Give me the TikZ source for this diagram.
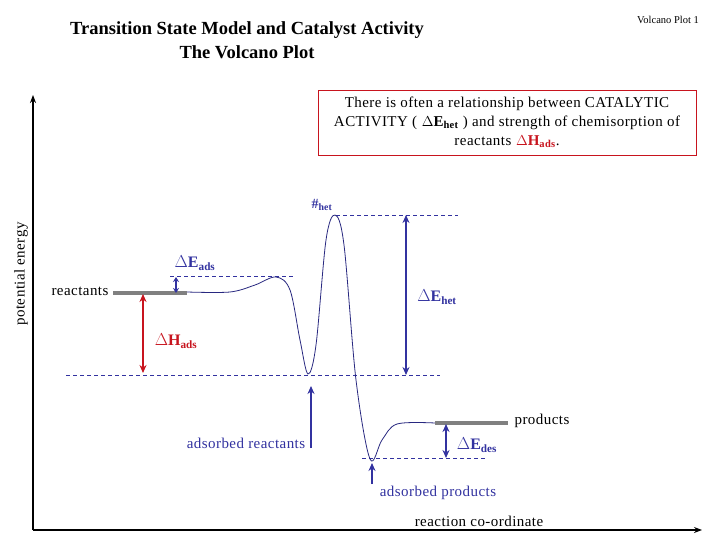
\documentclass[tikz,border=0pt]{standalone}
\usepackage{fontspec}
\setmainfont{Liberation Serif}
\usetikzlibrary{arrows.meta}
\definecolor{bl}{RGB}{50,50,160}
\definecolor{rd}{RGB}{200,20,30}
\definecolor{gr}{RGB}{128,128,128}
\begin{document}
\begin{tikzpicture}[x=1pt,y=-1pt,
  dashlvl/.style={bl,line width=0.7pt,dash pattern=on 4pt off 3pt},
  barr/.style={bl,line width=2pt,{Stealth[length=8pt,width=7pt]}-{Stealth[length=8pt,width=7pt]}},
  uarr/.style={bl,line width=2pt,-{Stealth[length=8pt,width=7pt]}},
  rarr/.style={rd,line width=2pt,{Stealth[length=8pt,width=7pt]}-{Stealth[length=8pt,width=7pt]}},
  lbl/.style={font=\fontsize{15}{18}\selectfont\addfontfeature{LetterSpace=3}},
  blbl/.style={font=\bfseries\fontsize{16}{18}\selectfont},
  bar/.style={gr,line width=3.5pt}]
\useasboundingbox (0,0) rectangle (720,540);
\fill[white] (0,0) rectangle (720,540);
\node[font=\bfseries\fontsize{18.5}{24}\selectfont,align=center] (t) at (247,40) {Transition State Model and Catalyst Activity\\The Volcano Plot};
\node[font=\fontsize{10.5}{12}\selectfont] (v) at (668,20) {Volcano Plot 1};
\node[draw=rd,line width=0.8pt,minimum width=378pt,minimum height=65pt,align=center,font=\fontsize{15}{19}\selectfont\addfontfeature{LetterSpace=3}] (box) at (507,122.5)
 {There is often a relationship between CATALYTIC\\ACTIVITY ( \textbf{$\Delta$E\textsubscript{het}} ) and strength of chemisorption of\\reactants \textbf{\textcolor{rd}{$\Delta$H\textsubscript{ads}}}.};
% axes
\coordinate (o) at (33,530);
\coordinate (ya) at (33,95);
\coordinate (xa) at (702,530);
\draw[line width=1.5pt,-{Stealth[length=8pt]}] (o) -- (ya);
\draw[line width=1.5pt,-{Stealth[length=8pt]}] (o) -- (xa);
\node[rotate=90,lbl] (pe) at (21,274) {potential energy};
\node[lbl] (rc) at (479,521) {reaction co-ordinate};
% dashed levels
\coordinate (d1a) at (170,276); \coordinate (d1b) at (293,276);
\coordinate (d2a) at (336,215); \coordinate (d2b) at (458,215);
\coordinate (d3a) at (66,375); \coordinate (d3b) at (440,375);
\coordinate (d4a) at (362,458); \coordinate (d4b) at (485,458);
\draw[dashlvl] (d1a)--(d1b); \draw[dashlvl] (d2a)--(d2b);
\draw[dashlvl] (d3a)--(d3b); \draw[dashlvl] (d4a)--(d4b);
% curve
\draw[bl!80!black,line width=0.8pt] plot[smooth,tension=0.55] coordinates
 {(187,292) (230,292) (255,285) (276,277) (290,290) (300,340) (308,374) (316,345) (326,240) (335,215) (344,245) (356,380) (370,459) (382,440) (397,424) (435,423)};
% bars
\coordinate (r1) at (113,293); \coordinate (r2) at (187,293);
\coordinate (p1) at (435,423); \coordinate (p2) at (508,423);
\draw[bar] (r1)--(r2); \draw[bar] (p1)--(p2);
\node[lbl] (rl) at (80,291) {reactants};
\node[lbl] (pl) at (542,421) {products};
% arrows
\coordinate (ea1) at (176,277); \coordinate (ea2) at (176,293);
\draw[bl,line width=1.6pt,{Stealth[length=5pt,width=6pt]}-{Stealth[length=5pt,width=6pt]}] (ea1)--(ea2);
\node[bl,blbl] (eal) at (195,263) {$\Delta$E\textsubscript{ads}};
\coordinate (h1) at (143,294); \coordinate (h2) at (143,373);
\draw[rarr] (h1)--(h2);
\node[rd,blbl] (hl) at (176,341) {$\Delta$H\textsubscript{ads}};
\coordinate (e1) at (406,215); \coordinate (e2) at (406,375);
\draw[barr] (e1)--(e2);
\node[bl,blbl] (el) at (437,297) {$\Delta$E\textsubscript{het}};
\node[bl,font=\bfseries\fontsize{14}{16}\selectfont] (hash) at (322,205) {\#\textsubscript{het}};
\coordinate (s1) at (311,448); \coordinate (s2) at (311,386);
\draw[uarr] (s1)--(s2);
\node[bl,lbl] (arl) at (246,443) {adsorbed reactants};
\coordinate (d1) at (446,424); \coordinate (d2) at (446,458);
\draw[barr] (d1)--(d2);
\node[bl,blbl] (dl) at (477,445) {$\Delta$E\textsubscript{des}};
\coordinate (q1) at (372,484); \coordinate (q2) at (372,463);
\draw[uarr] (q1)--(q2);
\node[bl,lbl] (apl) at (438,493) {adsorbed products};
\end{tikzpicture}
\end{document}
